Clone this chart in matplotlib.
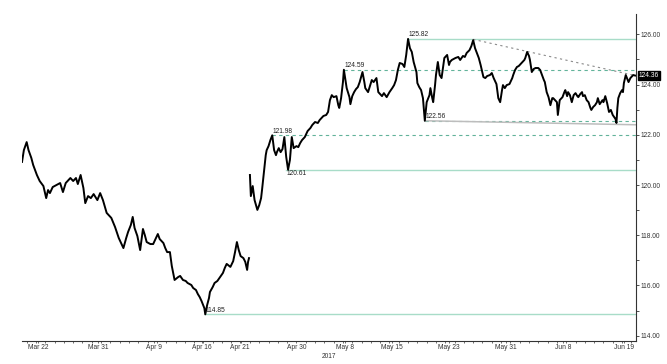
import matplotlib.pyplot as plt
from matplotlib.ticker import MultipleLocator, FixedLocator

# x = trading days since Mar 22, y = price
days1 = [-1.5, -1.3, -1.0, -0.8, -0.5, -0.3, -0.1, 0.1, 0.4, 0.8, 1.1, 1.3, 1.5, 1.8, 2.2, 2.6,
         2.9, 3.2, 3.7, 4.0, 4.3, 4.5, 4.8, 5.1, 5.3, 5.6, 5.9, 6.2, 6.6, 6.9, 7.2, 7.6, 8.1,
         8.5, 8.9, 9.4, 9.7, 9.9, 10.2, 10.4, 10.6, 10.9, 11.2, 11.5, 11.7, 11.9, 12.3, 12.6,
         12.9, 13.1, 13.3, 13.7, 13.9, 14.1, 14.4, 14.6, 14.9, 15.3, 15.5, 15.8, 16.1, 16.3,
         16.7, 16.9, 17.2, 17.4, 17.6, 17.8, 18.1, 18.2, 18.4, 18.6, 18.7, 19.0, 19.2, 19.5,
         19.8, 20.1, 20.3, 20.5, 20.9, 21.2, 21.4, 21.6, 21.8, 22.0, 22.3, 22.5, 22.7, 22.8, 22.9]
price1 = [120.92, 121.39, 121.71, 121.39, 121.08, 120.80, 120.60, 120.40, 120.16, 119.96, 119.48,
          119.80, 119.68, 119.92, 120.00, 120.08, 119.72, 120.08, 120.28, 120.16, 120.28, 120.04,
          120.40, 119.88, 119.28, 119.56, 119.48, 119.64, 119.40, 119.68, 119.40, 118.89, 118.69,
          118.33, 117.89, 117.49, 117.89, 118.13, 118.41, 118.73, 118.29, 117.97, 117.41, 118.25,
          118.01, 117.73, 117.65, 117.65, 117.89, 118.05, 117.85, 117.69, 117.49, 117.33, 117.33,
          116.78, 116.22, 116.34, 116.38, 116.22, 116.18, 116.10, 116.02, 115.90, 115.82, 115.66,
          115.54, 115.38, 115.10, 114.85, 115.22, 115.50, 115.74, 115.94, 116.10, 116.18, 116.34,
          116.50, 116.70, 116.86, 116.74, 116.97, 117.33, 117.73, 117.41, 117.17, 117.09, 116.94,
          116.62, 116.94, 117.09]

days2 = [23.0, 23.1, 23.3, 23.5, 23.8, 24.0, 24.2, 24.3, 24.5, 24.7, 24.8, 25.0, 25.2, 25.4,
         25.6, 25.8, 25.9, 26.1, 26.3, 26.5, 26.7, 26.9, 27.1, 27.3, 27.5, 27.7, 28.0, 28.2,
         28.4, 28.6, 28.9, 29.2, 29.5, 29.7, 30.0, 30.3, 30.5, 30.9, 31.2, 31.4, 31.6, 31.8,
         32.0, 32.3, 32.5, 32.6, 32.8, 33.0, 33.1, 33.3, 33.4, 33.7, 33.8, 34.0, 34.2, 34.4,
         34.6, 34.8, 35.1, 35.3, 35.4, 35.7, 35.9, 36.1, 36.3, 36.6, 36.8, 37.0, 37.2, 37.4,
         37.7, 38.0, 38.3, 38.5, 38.7, 38.9, 39.1, 39.4, 39.6, 39.8, 40.0, 40.2, 40.4, 40.6,
         40.9, 41.0, 41.2, 41.4, 41.6, 41.7, 41.8, 42.0, 42.3, 42.4, 42.6, 42.7, 42.9, 43.0,
         43.2, 43.4, 43.6, 43.8, 43.9, 44.1, 44.2, 44.4, 44.5, 44.7, 45.1, 45.4, 45.6, 45.9,
         46.1, 46.3, 46.6, 46.8, 47.0, 47.2, 47.4, 47.6, 47.8, 48.1, 48.3, 48.5, 48.8, 49.0,
         49.2, 49.5, 49.7, 49.9, 50.1, 50.2, 50.4, 50.6, 50.9, 51.0, 51.2, 51.3, 51.5, 51.7,
         51.9, 52.3, 52.5, 52.6, 52.8, 53.0, 53.1, 53.3, 53.5, 53.7, 54.0, 54.2, 54.4, 54.6,
         54.7, 54.9, 55.1, 55.3, 55.5, 55.6, 55.8, 56.0, 56.1, 56.3, 56.6, 56.8, 56.9, 57.1,
         57.2, 57.4, 57.6, 57.8, 58.0, 58.2, 58.3, 58.5, 58.7, 58.8, 59.0, 59.2, 59.4, 59.6,
         59.7, 59.9, 60.1, 60.3, 60.4, 60.6, 60.9, 61.0, 61.2, 61.4, 61.6, 61.8, 62.0, 62.3,
         62.4, 62.5, 62.6, 62.8, 63.0, 63.1, 63.2, 63.4, 63.7, 63.9, 64.0, 64.2, 64.4]
price2 = [120.40, 119.56, 119.96, 119.40, 119.01, 119.20, 119.48, 119.80, 120.48, 121.19, 121.39,
          121.55, 121.79, 121.98, 121.39, 121.19, 121.31, 121.47, 121.31, 121.43, 121.91, 121.12,
          120.61, 121.00, 121.91, 121.47, 121.55, 121.51, 121.67, 121.79, 121.91, 122.15, 122.27,
          122.39, 122.51, 122.47, 122.59, 122.75, 122.79, 122.91, 123.38, 123.58, 123.50, 123.54,
          123.18, 123.07, 123.46, 124.10, 124.59, 124.10, 123.86, 123.50, 123.22, 123.54, 123.70,
          123.82, 123.90, 124.10, 124.50, 124.10, 123.86, 123.70, 123.94, 124.18, 124.10, 124.26,
          123.70, 123.62, 123.54, 123.66, 123.50, 123.70, 123.86, 123.98, 124.18, 124.58, 124.86,
          124.82, 124.70, 125.18, 125.82, 125.45, 125.30, 124.90, 124.50, 124.06, 123.90, 123.78,
          123.46, 122.99, 122.56, 123.30, 123.58, 123.86, 123.46, 123.30, 123.98, 124.38, 124.90,
          124.38, 124.26, 124.78, 125.06, 125.14, 125.18, 124.78, 124.90, 124.98, 125.06, 125.10,
          124.98, 125.14, 125.10, 125.26, 125.37, 125.53, 125.77, 125.45, 125.26, 125.06, 124.78,
          124.30, 124.26, 124.34, 124.38, 124.46, 124.26, 124.02, 123.46, 123.30, 123.78, 123.98,
          123.86, 123.98, 124.02, 124.10, 124.26, 124.38, 124.58, 124.70, 124.74, 124.90, 124.98,
          125.06, 125.30, 125.14, 124.98, 124.50, 124.62, 124.66, 124.66, 124.58, 124.38, 124.18,
          124.10, 123.70, 123.50, 123.18, 123.46, 123.46, 123.38, 123.30, 122.79, 123.38, 123.50,
          123.70, 123.78, 123.54, 123.70, 123.58, 123.30, 123.58, 123.66, 123.54, 123.50, 123.62,
          123.70, 123.54, 123.58, 123.38, 123.30, 123.07, 122.99, 123.11, 123.18, 123.30, 123.46,
          123.22, 123.38, 123.30, 123.54, 123.26, 122.91, 122.99, 122.79, 122.63, 122.47, 123.07,
          123.46, 123.66, 123.78, 123.70, 124.06, 124.38, 124.10, 124.26, 124.30, 124.38, 124.36]

# support / resistance levels: (start day, price, label, solid?)
levels = [
    (40.0, 125.82, "125.82", True, "bottom"),
    (33.1, 124.59, "124.59", False, "bottom"),
    (41.8, 122.56, "122.56", False, "bottom"),
    (25.4, 121.98, "121.98", False, "bottom"),
    (26.9, 120.61, "120.61", True, "top"),
    (18.2, 114.85, "114.85", True, "bottom"),
]
# trend lines through reference points
upper_trend = [(47.0, 125.80), (52.8, 125.32)]
lower_trend = [(41.8, 122.56), (64.5, 122.40)]

tick_days = [0.2, 6.7, 12.7, 17.8, 21.9, 28.0, 33.2, 38.3, 44.4, 50.5, 56.7, 63.2]
tick_labels = ["Mar 22", "Mar 31", "Apr 9", "Apr 16", "Apr 21", "Apr 30",
               "May 8", "May 15", "May 23", "May 31", "Jun 8", "Jun 19"]
last_price = 124.36

XMIN, XMAX = -1.5, 64.5

plt.rcParams['font.family'] = ['Liberation Sans', 'DejaVu Sans']
fs = 4.8

fig = plt.figure(figsize=(6.67, 3.64), dpi=100)
ax = fig.add_axes([0.033, 0.0632, 0.9205, 0.8983])

solid_c = "#a8dcc8"
dash_c = "#62b39a"

for x0, y0, lab, solid, va in levels:
    if solid:
        ax.plot([x0, XMAX], [y0, y0], color=solid_c, lw=1.0, zorder=1)
    else:
        ax.plot([x0, XMAX], [y0, y0], color=dash_c, lw=0.8, ls=(0, (3, 3)), zorder=1)
    dy = 0.5 if va == "bottom" else -0.5
    ax.annotate(lab, (x0, y0), xytext=(0.5, dy), textcoords="offset points",
                ha="left", va=va, fontsize=fs, color="#222222", zorder=4)

# upper dotted trend line, extended to the right edge
(ux0, uy0), (ux1, uy1) = upper_trend
slope = (uy1 - uy0) / (ux1 - ux0)
ax.plot([ux0, XMAX], [uy0, uy0 + slope * (XMAX - ux0)], color="#8a8a8a",
        lw=0.8, ls=(0, (2, 3)), zorder=1)
ax.plot([p[0] for p in lower_trend], [p[1] for p in lower_trend],
        color="#bdbdbd", lw=1.1, zorder=1)

ax.plot(days1, price1, color="black", lw=1.4, zorder=3)
ax.plot(days2, price2, color="black", lw=1.4, zorder=3)

ax.set_xlim(XMIN, XMAX)
ax.set_ylim(113.79, 126.81)

ax.spines['left'].set_visible(False)
ax.spines['top'].set_visible(False)
for s in ['right', 'bottom']:
    ax.spines[s].set_linewidth(0.8)
    ax.spines[s].set_color("#333333")

ax.yaxis.tick_right()
ax.yaxis.set_major_locator(MultipleLocator(2))
ax.yaxis.set_minor_locator(MultipleLocator(1))
ax.yaxis.set_major_formatter(plt.FuncFormatter(lambda v, p: f"{v:.2f}"))
ax.tick_params(axis='y', which='both', direction='out', length=2, width=0.6,
               labelsize=fs, pad=1, colors="#333333")

ax.xaxis.set_major_locator(FixedLocator(tick_days))
ax.set_xticklabels(tick_labels)
ax.xaxis.set_minor_locator(MultipleLocator(1))
ax.tick_params(axis='x', which='both', direction='out', length=1.5, width=0.5,
               labelsize=fs, pad=1, colors="#333333")
ax.set_xlabel("2017", fontsize=fs, labelpad=1, color="#333333")

ax.annotate(f"{last_price:.2f}", xy=(1.0, last_price), xycoords=('axes fraction', 'data'),
            xytext=(2, 0), textcoords="offset points", ha="left", va="center",
            fontsize=fs, color="white",
            bbox=dict(boxstyle="square,pad=0.15", fc="black", ec="black"))

fig.savefig("out.png", dpi=100)
